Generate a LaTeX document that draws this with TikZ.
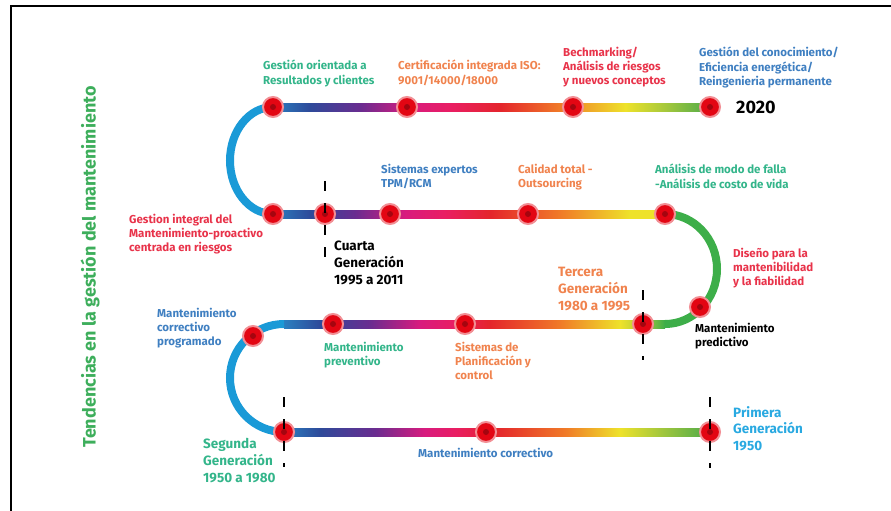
\documentclass[tikz,border=0pt]{standalone}
\usepackage{fontspec}
\setmainfont{Fira Sans}
\usepackage{tikz}
\usetikzlibrary{positioning, calc}

\definecolor{trackblue}{HTML}{2A7FC0}
\definecolor{tracknavy}{HTML}{2E4A9A}
\definecolor{trackpurple}{HTML}{6A2C90}
\definecolor{trackmagenta}{HTML}{D81B7E}
\definecolor{trackpink}{HTML}{E91E63}
\definecolor{trackred}{HTML}{E4252C}
\definecolor{trackorange}{HTML}{F07A28}
\definecolor{trackyellow}{HTML}{EEE22A}
\definecolor{trackyg}{HTML}{A5C83C}
\definecolor{trackgreen}{HTML}{4DAA4A}
\definecolor{arcblue}{HTML}{1A9AD7}
\definecolor{arcgreen}{HTML}{3DAE49}
\definecolor{dotred}{HTML}{E30613}
\definecolor{dotdark}{HTML}{A5050F}
\definecolor{txtgreen}{HTML}{33B58A}
\definecolor{txttitle}{HTML}{3DAE5B}
\definecolor{txtorange}{HTML}{F0834E}
\definecolor{txtred}{HTML}{E8334A}
\definecolor{txtblue}{HTML}{3F7FC1}
\definecolor{txtcyan}{HTML}{29A9E1}

% shadings: path bounding box covers 25bp..75bp
\pgfdeclarehorizontalshading{rowone}{100bp}{color(0bp)=(trackblue); color(25bp)=(trackblue); color(29.2bp)=(tracknavy); color(35bp)=(trackpurple); color(40.7bp)=(trackmagenta); color(45.3bp)=(trackpink); color(51bp)=(trackred); color(57.8bp)=(trackorange); color(65.3bp)=(trackyellow); color(69.9bp)=(trackyg); color(75bp)=(trackgreen); color(100bp)=(trackgreen)}
\pgfdeclarehorizontalshading{rowtwo}{100bp}{color(0bp)=(trackblue); color(25bp)=(trackblue); color(29.7bp)=(tracknavy); color(35.5bp)=(trackpurple); color(41.8bp)=(trackmagenta); color(46.9bp)=(trackpink); color(52.7bp)=(trackred); color(61.6bp)=(trackorange); color(70.5bp)=(trackyellow); color(75bp)=(trackyellow); color(100bp)=(trackyellow)}
\pgfdeclarehorizontalshading{rowthree}{100bp}{color(0bp)=(trackblue); color(25bp)=(trackblue); color(29.7bp)=(tracknavy); color(36.3bp)=(trackpurple); color(42.8bp)=(trackmagenta); color(47.4bp)=(trackpink); color(52bp)=(trackred); color(61.2bp)=(trackorange); color(69.1bp)=(trackyellow); color(72.4bp)=(trackyg); color(75bp)=(arcgreen); color(100bp)=(arcgreen)}
\pgfdeclarehorizontalshading{rowfour}{100bp}{color(0bp)=(trackblue); color(25bp)=(trackblue); color(29.2bp)=(tracknavy); color(35.7bp)=(trackpurple); color(41.5bp)=(trackmagenta); color(45.1bp)=(trackpink); color(49.8bp)=(trackred); color(58bp)=(trackorange); color(64.4bp)=(trackyellow); color(69.1bp)=(trackyg); color(75bp)=(trackgreen); color(100bp)=(trackgreen)}

\begin{document}
\begin{tikzpicture}[x=1pt, y=-1pt]

        % Define styles
        \tikzstyle{station} = [circle, fill=dotred, draw=dotred!45, line width=2pt, minimum size=20pt, inner sep=0pt, path picture={\fill[dotdark] (path picture bounding box.center) circle (3pt);}]
        \tikzstyle{railarc} = [line width=8pt]
        \tikzstyle{gentick} = [black, line width=2.5pt, dash pattern=on 10pt off 12pt]
        \tikzstyle{note} = [font=\bfseries\fontsize{11.5}{14.2}\selectfont, align=left, anchor=north west, inner sep=0pt]
        \tikzstyle{era} = [font=\bfseries\fontsize{13.5}{16.8}\selectfont, align=left, anchor=north west, inner sep=0pt]

        \useasboundingbox (0,0) rectangle (891,511);
        \draw[line width=2pt] (11,511) -- (11,6) -- (891,6);

        % Track ends
        \coordinate (r1w) at (273,107);
        \coordinate (r1e) at (710,107);
        \coordinate (r2w) at (273,214);
        \coordinate (r2e) at (665,214);
        \coordinate (r3w) at (284,324);
        \coordinate (r3e) at (665,324);
        \coordinate (r4w) at (284,432);
        \coordinate (r4e) at (710,432);

        % Draw track
        \shade[shading=rowone] ($(r1w)+(0,-4)$) rectangle ($(r1e)+(0,4)$);
        \shade[shading=rowtwo] ($(r2w)+(0,-4)$) rectangle ($(r2e)+(0,4)$);
        \shade[shading=rowthree] ($(r3w)+(0,-4)$) rectangle ($(r3e)+(0,4)$);
        \shade[shading=rowfour] ($(r4w)+(0,-4)$) rectangle ($(r4e)+(0,4)$);
        \draw[railarc, arcblue] (r1w) arc[start angle=270, end angle=90, x radius=43, y radius=53.5];
        \draw[railarc, arcgreen] (r2e) arc[start angle=-90, end angle=90, x radius=52, y radius=55];
        \draw[railarc, arcblue] (r3w) arc[start angle=270, end angle=90, radius=54];

        % Place stations
        \node [station] (gestres) at (r1w) {};
        \node [station] (iso) at (407,107) {};
        \node [station] (bench) at (573,107) {};
        \node [station] (conoc) at (r1e) {};
        \node [station] (integral) at (r2w) {};
        \node [station] (cuarta) at (325,214) {};
        \node [station] (expertos) at (390,214) {};
        \node [station] (calidad) at (528,214) {};
        \node [station] (falla) at (r2e) {};
        \node [station] (diseno) at (700,307) {};
        \node [station] (tercera) at (643,324) {};
        \node [station] (planif) at (465,324) {};
        \node [station] (preventivo) at (333,324) {};
        \node [station] (programado) at (253,336) {};
        \node [station] (segunda) at (r4w) {};
        \node [station] (correctivo) at (486,432) {};
        \node [station] (primera) at (r4e) {};

        % Generation ticks
        \draw[gentick] ($(cuarta)+(0,-33)$) -- ($(cuarta)+(0,44)$);
        \draw[gentick] ($(tercera)+(0,-34)$) -- ($(tercera)+(0,36)$);
        \draw[gentick] ($(segunda)+(0,-35)$) -- ($(segunda)+(0,35)$);
        \draw[gentick] ($(primera)+(0,-35)$) -- ($(primera)+(0,36)$);

        % Labels
        \node [note, txtgreen] (lgestres) at (263,60) {Gestión orientada a\\Resultados y clientes};
        \node [note, txtorange] (liso) at (398,60) {Certificación integrada ISO:\\9001/14000/18000};
        \node [note, txtred] (lbench) at (563,47) {Bechmarking/\\Análisis de riesgos\\y nuevos conceptos};
        \node [note, txtblue] (lconoc) at (699,47) {Gestión del conocimiento/\\Eficiencia energética/\\Reingenieria permanente};
        \node [font=\bfseries\fontsize{18}{20}\selectfont, anchor=west, inner sep=0pt] (year) at (736,107) {2020};
        \node [note, txtblue] (lexpertos) at (381,164) {Sistemas expertos\\TPM/RCM};
        \node [note, txtorange] (lcalidad) at (518,164) {Calidad total -\\Outsourcing};
        \node [note, txtgreen] (lfalla) at (655,164) {Análisis de modo de falla\\-Análisis de costo de vida};
        \node [note, txtred] (lintegral) at (129,214) {Gestion integral del\\Mantenimiento-proactivo\\centrada en riesgos};
        \node [era, black] (lcuarta) at (334,241) {Cuarta\\Generación\\1995 a 2011};
        \node [note, txtred] (ldiseno) at (733,248) {Diseño para la\\mantenibilidad\\y la fiabilidad};
        \node [era, txtorange] (ltercera) at (558,267) {Tercera\\Generación\\1980 a 1995};
        \node [note, black] (lpredictivo) at (695,323) {Mantenimiento\\predictivo};
        \node [note, txtblue] (lprogramado) at (157,308) {Mantenimiento\\correctivo\\programado};
        \node [note, txtgreen] (lpreventivo) at (324,342) {Mantenimiento\\preventivo};
        \node [note, txtorange] (lplanif) at (455,342) {Sistemas de\\Planificación y\\control};
        \node [era, txtgreen] (lsegunda) at (203,438) {Segunda\\Generación\\1950 a 1980};
        \node [note, txtblue] (lcorrectivo) at (418,448) {Mantenimiento correctivo};
        \node [era, txtcyan] (lprimera) at (733,406) {Primera\\Generación\\1950};
        \node [font=\bfseries\fontsize{18}{20}\selectfont, txttitle, rotate=90, inner sep=0pt] (heading) at (90,267) {Tendencias en la gestión del mantenimiento};

\end{tikzpicture}
\end{document}
